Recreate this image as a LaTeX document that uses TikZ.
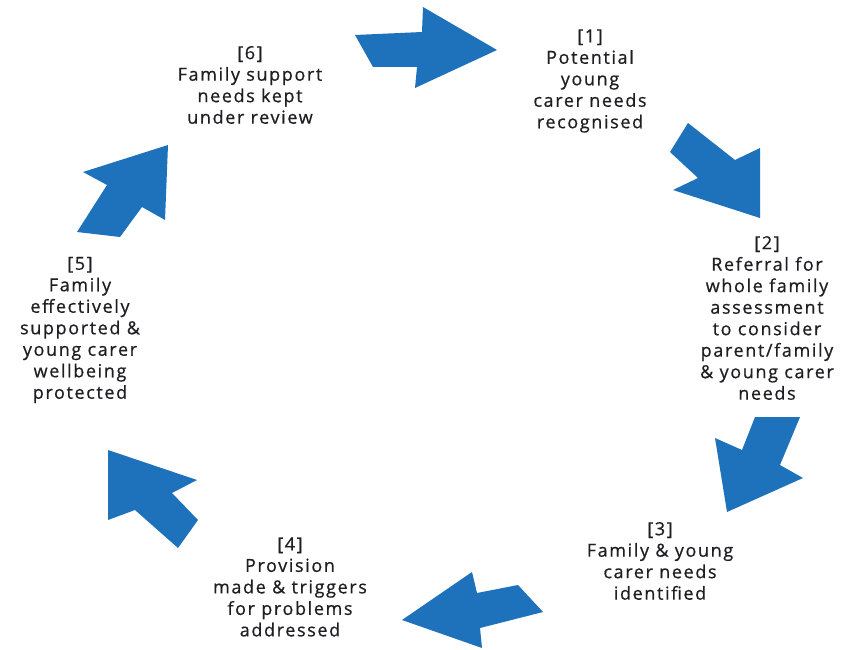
\documentclass[tikz,border=0pt]{standalone}
\usepackage{fontspec}
\setmainfont{Open Sans}[LetterSpace=9,FakeBold=0.6]
\definecolor{arrowblue}{RGB}{30,114,188}
\definecolor{txt}{RGB}{30,30,35}
\begin{document}
\begin{tikzpicture}[x=1pt,y=-1pt,
  fat/.style={fill=arrowblue,draw=none},
  lbl/.style={align=center,text=txt,font=\fontsize{18}{21.5}\selectfont,inner sep=0pt}]
\useasboundingbox (0,0) rectangle (843,650);
% arrows
\fill[fat] (355,35) -- (422,32) -- (423,7) -- (497,50) -- (415,88) -- (417,67) -- (373,67) -- cycle;
\fill[fat] (688,123) -- (735,160) -- (760,148) -- (760,218) -- (673,190) -- (698,178) -- (670,152) -- cycle;
\fill[fat] (755,417) -- (800,417) -- (780,465) -- (803,478) -- (727,512) -- (715,438) -- (742,450) -- cycle;
\fill[fat] (472,572) -- (477,593) -- (518,585) -- (543,612) -- (480,628) -- (482,648) -- (402,620) -- cycle;
\fill[fat] (108,450) -- (197,480) -- (172,493) -- (198,520) -- (178,548) -- (135,510) -- (108,520) -- cycle;
\fill[fat] (168,145) -- (165,220) -- (142,207) -- (120,237) -- (77,232) -- (107,185) -- (83,172) -- cycle;
% labels
\node[lbl] (s6) at (250,85) {[6]\\Family support\\needs kept\\under review};
\node[lbl] (s1) at (590,81) {[1]\\Potential\\young\\carer needs\\recognised};
\node[lbl] (s2) at (767,318) {[2]\\Referral for\\whole family\\assessment\\to consider\\parent/family\\\& young carer\\needs};
\node[lbl] (s3) at (660,561) {[3]\\Family \& young\\carer needs\\identified};
\node[lbl] (s4) at (290,587) {[4]\\Provision\\made \& triggers\\for problems\\addressed};
\node[lbl] (s5) at (80,330) {[5]\\Family\\effectively\\supported \&\\young carer\\wellbeing\\protected};
\end{tikzpicture}
\end{document}
